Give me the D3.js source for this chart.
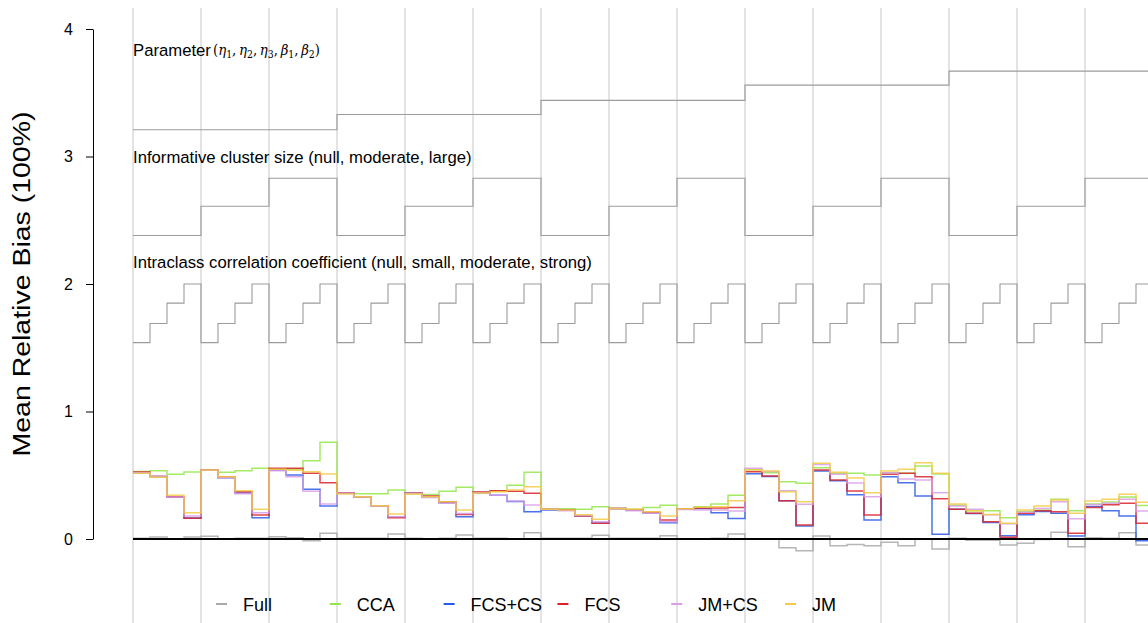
<!DOCTYPE html>
<html><head><meta charset="utf-8">
<script src="https://cdn.jsdelivr.net/npm/d3@7"></script>
<style>body{margin:0;background:#fff}</style>
</head><body><svg id="c" width="1148" height="623"></svg>
<script>
const methods = ["Full","CCA","FCS+CS","FCS","JM+CS","JM"];
const colors = ["#a9a9a9","#94e64a","#2a5be8","#d8232a","#d99ee8","#f3cb45"];

const full=[0.005,0.016,0.0,0.016, 0.021,0.0,0.005,0.005, 0.018,0.01,-0.013,0.045, 0.005,0.005,0.005,0.039, 0.005,0.0,0.005,0.031, 0.005,0.005,0.0,0.05, 0.005,0.005,0.005,0.029, 0.005,0.005,0.005,0.026, 0.0,0.0,0.005,0.039, 0.0,0.0,-0.068,-0.092, 0.023,-0.052,-0.044,-0.052, -0.026,-0.052,0.0,-0.078, 0.005,-0.01,-0.01,-0.047, -0.034,-0.003,0.052,-0.06, 0.01,0.005,0.05,-0.047];
const cca=[0.53,0.536,0.507,0.525, 0.541,0.523,0.536,0.554, 0.547,0.547,0.614,0.758, 0.36,0.355,0.355,0.384, 0.355,0.35,0.374,0.405, 0.36,0.375,0.421,0.523, 0.235,0.238,0.233,0.253, 0.24,0.233,0.248,0.264, 0.238,0.253,0.275,0.343, 0.545,0.52,0.45,0.437, 0.559,0.515,0.515,0.502, 0.52,0.515,0.573,0.51, 0.265,0.222,0.222,0.167, 0.215,0.225,0.311,0.222, 0.275,0.29,0.33,0.262];
const fcsCs=[0.52,0.49,0.33,0.165, 0.54,0.48,0.36,0.167, 0.54,0.502,0.39,0.259, 0.36,0.33,0.26,0.17, 0.36,0.33,0.285,0.175, 0.365,0.343,0.295,0.214, 0.228,0.225,0.18,0.125, 0.24,0.228,0.201,0.128, 0.238,0.24,0.206,0.16, 0.512,0.49,0.30,0.102, 0.533,0.457,0.348,0.149, 0.489,0.442,0.337,0.037, 0.233,0.2,0.13,0.026, 0.191,0.215,0.201,0.023, 0.255,0.222,0.18,-0.013];
const fcs=[0.525,0.49,0.332,0.162, 0.541,0.489,0.37,0.188, 0.555,0.554,0.515,0.442, 0.363,0.332,0.261,0.167, 0.361,0.337,0.293,0.193, 0.369,0.379,0.374,0.358, 0.233,0.227,0.18,0.123, 0.24,0.23,0.21,0.149, 0.238,0.243,0.243,0.248, 0.528,0.494,0.30,0.11, 0.541,0.463,0.376,0.188, 0.507,0.515,0.489,0.316, 0.233,0.201,0.136,0.013, 0.201,0.222,0.214,0.045, 0.248,0.269,0.28,0.123];
const jmCs=[0.52,0.49,0.33,0.18, 0.54,0.48,0.355,0.206, 0.536,0.489,0.374,0.275, 0.36,0.33,0.258,0.175, 0.358,0.325,0.28,0.2, 0.36,0.343,0.298,0.267, 0.233,0.222,0.185,0.135, 0.24,0.222,0.201,0.135, 0.232,0.227,0.227,0.22, 0.554,0.53,0.379,0.272, 0.585,0.507,0.44,0.332, 0.52,0.47,0.463,0.363, 0.259,0.233,0.19,0.12, 0.21,0.24,0.293,0.159, 0.27,0.28,0.311,0.22];
const jm=[0.515,0.485,0.343,0.206, 0.541,0.489,0.379,0.233, 0.547,0.54,0.528,0.51, 0.353,0.332,0.261,0.196, 0.353,0.332,0.293,0.227, 0.36,0.37,0.384,0.41, 0.233,0.227,0.19,0.154, 0.24,0.233,0.214,0.18, 0.238,0.25,0.253,0.30, 0.541,0.533,0.37,0.293, 0.594,0.523,0.478,0.363, 0.533,0.547,0.599,0.515, 0.275,0.222,0.193,0.123, 0.227,0.259,0.306,0.201, 0.298,0.311,0.351,0.288];

const paramLevels=[3.21,3.33,3.44,3.56,3.67];
const clusterLevels=[2.38,2.61,2.83];
const iccLevels=[1.54,1.69,1.85,2.00];
const yTicks=[0,1,2,3,4];
const yTitle="Mean Relative Bias (100%)";
const paramLabel="Parameter";
const clusterLabel="Informative cluster size (null, moderate, large)";
const iccLabel="Intraclass correlation coefficient (null, small, moderate, strong)";

const series=[full,cca,fcsCs,fcs,jmCs,jm];
const nScen=full.length;
const svg=d3.select("#c");
const font="'Liberation Sans', Arial, Helvetica, sans-serif";
const x=d3.scaleLinear().domain([0,nScen]).range([133,1153]);
const y=d3.scaleLinear().domain([0,4]).range([539,29]);

// vertical grid at cluster-size blocks
svg.append("g").selectAll("line").data(d3.range(0,nScen+1,4)).join("line")
  .attr("x1",d=>x(d)).attr("x2",d=>x(d)).attr("y1",8).attr("y2",623)
  .attr("stroke","#d4d4d4").attr("stroke-width",1.3);

const step=d3.line().x((d,i)=>x(i)).y(d=>y(d)).curve(d3.curveStepAfter);
const ext=a=>a.concat([a[a.length-1]]);

const idx=d3.range(nScen);
const paramSeries=idx.map(i=>paramLevels[Math.floor(i/12)]);
const clusterSeries=idx.map(i=>clusterLevels[Math.floor(i/4)%3]);
const iccSeries=idx.map(i=>iccLevels[i%4]);
[paramSeries,clusterSeries,iccSeries].forEach(s=>{
  svg.append("path").attr("d",step(ext(s))).attr("fill","none")
    .attr("stroke","#9c9c9c").attr("stroke-width",1.1);
});

// data lines
series.forEach((s,k)=>{
  svg.append("path").attr("d",step(ext(s))).attr("fill","none")
    .attr("stroke",colors[k]).attr("stroke-width",1.5).attr("stroke-opacity",0.85);
});
// zero line
svg.append("line").attr("x1",x(0)).attr("x2",x(nScen)).attr("y1",y(0)).attr("y2",y(0))
  .attr("stroke","#000").attr("stroke-width",1.8);

// y axis
const ax=svg.append("g").attr("transform","translate(93,0)")
  .call(d3.axisLeft(y).tickValues(yTicks).tickFormat(d3.format("d")).tickSize(7).tickSizeOuter(0).tickPadding(13));
ax.selectAll("path,line").attr("stroke","#000").attr("stroke-width",1);
ax.selectAll("text").attr("font-family",font).attr("font-size",16).attr("fill","#000");

svg.append("text").attr("transform","translate(30,284) rotate(-90)")
  .attr("text-anchor","middle").attr("font-family",font).attr("font-size",23.5)
  .attr("textLength",345).attr("lengthAdjust","spacingAndGlyphs").text(yTitle);

// annotations
const ann=[[paramLabel,55.5],[clusterLabel,162.5],[iccLabel,267.5]];
ann.forEach(([t,yy])=>{
  svg.append("text").attr("x",133).attr("y",yy).attr("font-family",font).attr("font-size",16.7).text(t);
});
// math part
const m=svg.append("text").attr("x",213).attr("y",55).attr("font-family","'DejaVu Serif','Liberation Serif',serif").attr("font-size",15)
  .attr("textLength",107).attr("lengthAdjust","spacingAndGlyphs");
const syms=[["η","1"],["η","2"],["η","3"],["β","1"],["β","2"]];
m.append("tspan").text("(");
syms.forEach(([g,s],i)=>{
  m.append("tspan").attr("font-style","italic").text(g);
  m.append("tspan").attr("font-size",10.5).attr("dy",3).text(s);
  m.append("tspan").attr("dy",-3).text(i<syms.length-1?",\u2009":")");
});

// legend
const lg=svg.append("g");
methods.forEach((name,k)=>{
  const lx=216+k*113.8;
  lg.append("line").attr("x1",lx).attr("x2",lx+11).attr("y1",604).attr("y2",604)
    .attr("stroke",colors[k]).attr("stroke-width",2);
  lg.append("text").attr("x",lx+27).attr("y",610.5).attr("font-family",font).attr("font-size",18).text(name);
});
</script></body></html>
